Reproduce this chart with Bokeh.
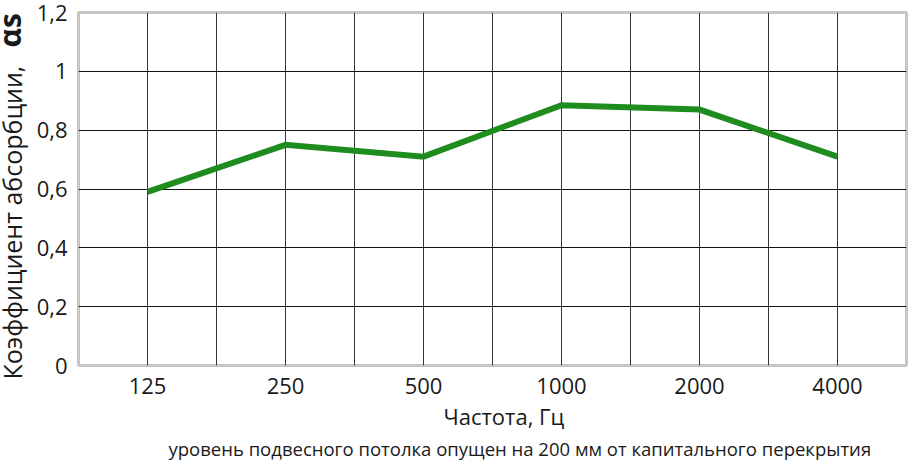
import math
from bokeh.plotting import figure
from bokeh.layouts import row
from bokeh.models import FixedTicker, CustomJSTickFormatter, Range1d, ColumnDataSource, Title
from bokeh.core.properties import value
from bokeh.embed import file_html
from bokeh.resources import INLINE

# ---- data ----
freqs = ["125", "250", "500", "1000", "2000", "4000"]
alpha_s = [0.59, 0.75, 0.71, 0.885, 0.87, 0.71]
y_ticks = [0, 0.2, 0.4, 0.6, 0.8, 1.0, 1.2]
x_title = "Частота, Гц"
y_title = "Коэффициент абсорбции,"
y_symbol = "αs"
note = "уровень подвесного потолка опущен на 200 мм от капитального перекрытия"

FONT = "Open Sans"
TXT = "#1a1a1a"
W, H = 909, 461
LEFT_W = 32
n = len(freqs)
xpos = [2 * i + 1 for i in range(n)]          # each band centred in a pair of grid cells
grid_x = list(range(1, 2 * n))

src = ColumnDataSource(dict(x=xpos, y=alpha_s, f=freqs))

# ---- main chart ----
p = figure(width=W - LEFT_W, height=H,
           x_range=Range1d(0, 2 * n), y_range=Range1d(0, 1.2),
           output_backend="svg", toolbar_location=None,
           min_border_left=46, min_border_right=3,
           min_border_top=12, min_border_bottom=95)
p.frame_align = False

p.background_fill_color = "white"
p.border_fill_color = "white"
p.outline_line_color = "#c6c6c6"
p.outline_line_width = 3

p.xaxis.ticker = FixedTicker(ticks=grid_x)
overrides = {g: "" for g in grid_x}
overrides.update({x: f for x, f in zip(xpos, freqs)})
p.xaxis.major_label_overrides = overrides
p.yaxis.ticker = FixedTicker(ticks=y_ticks)
p.yaxis.formatter = CustomJSTickFormatter(
    code="return (Math.round(tick*10)/10).toString().replace('.', ',');")

for ax in p.axis:
    ax.axis_line_color = None
    ax.major_tick_line_color = None
    ax.minor_tick_line_color = None
    ax.major_tick_out = 0
    ax.major_tick_in = 0
    ax.major_label_text_font = FONT
    ax.major_label_text_font_size = "22px"
    ax.major_label_text_color = TXT
p.xaxis.major_label_standoff = 12
p.yaxis.major_label_standoff = 11

p.xgrid.ticker = FixedTicker(ticks=grid_x)
p.ygrid.ticker = FixedTicker(ticks=y_ticks[1:-1])
p.xgrid.grid_line_color = "#333333"
p.ygrid.grid_line_color = "#111111"
p.xgrid.grid_line_width = 1
p.ygrid.grid_line_width = 1

p.line("x", "y", source=src, line_color="#1f8c1f", line_width=6,
       line_join="miter", line_cap="butt")

# texts below the plot
p.add_layout(Title(text=x_title, align="left", offset=365, standoff=4,
                   text_font=FONT, text_font_size="22px", text_font_style="normal",
                   text_color=TXT), "below")
p.add_layout(Title(text=note, align="left", offset=90, standoff=2,
                   text_font=FONT, text_font_size="18.5px", text_font_style="normal",
                   text_color=TXT), "below")

# ---- strip on the left carrying the vertical axis title (pixel coordinates) ----
pl = figure(width=LEFT_W, height=H, x_range=Range1d(0, LEFT_W), y_range=Range1d(H, 0),
            output_backend="svg", toolbar_location=None,
            x_axis_type=None, y_axis_type=None,
            min_border_left=0, min_border_right=0, min_border_top=0, min_border_bottom=0)
pl.frame_align = False
pl.outline_line_color = None
pl.grid.visible = False
pl.background_fill_color = "white"
pl.border_fill_color = "white"
pl.text(x=[11], y=[379], text=[y_title], angle=math.pi / 2,
        text_align="left", text_baseline="alphabetic",
        text_font=value(FONT), text_font_size="25px", text_color=TXT)
pl.text(x=[9], y=[47], text=[y_symbol], angle=math.pi / 2,
        text_align="left", text_baseline="alphabetic",
        text_font=value(FONT), text_font_size="30px", text_font_style="bold",
        text_color=TXT)

layout = row(pl, p, spacing=0)
open("out.html", "w").write(file_html(layout, INLINE))
